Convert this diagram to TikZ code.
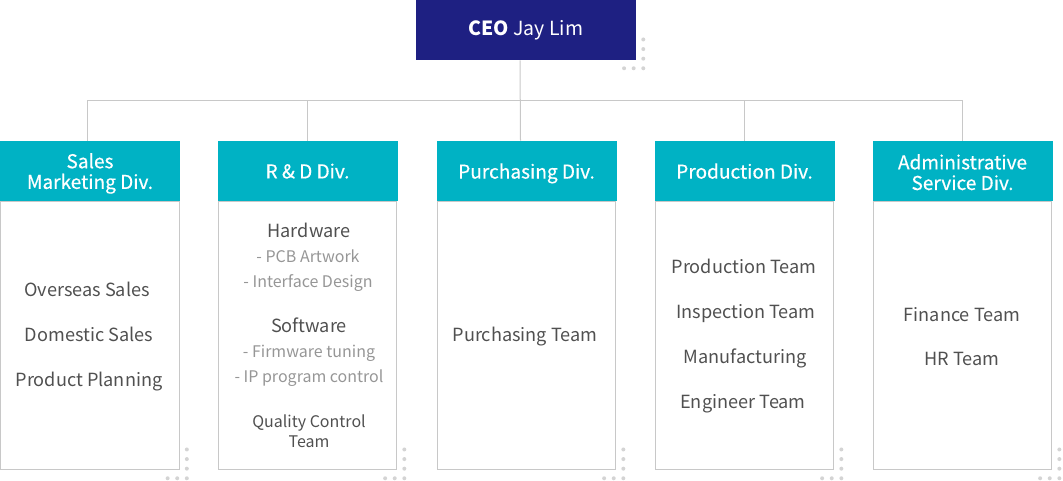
\documentclass[tikz,border=0pt]{standalone}
\usepackage{fontspec}
\setmainfont{Noto Sans CJK KR}
\newfontfamily\headfont[FakeBold=0.5]{Noto Sans CJK KR}
\usetikzlibrary{positioning,calc}
\definecolor{orgnavy}{RGB}{30,32,130}
\definecolor{orgteal}{RGB}{0,178,196}
\definecolor{orgline}{RGB}{200,200,200}
\definecolor{orgdot}{RGB}{212,212,212}
\definecolor{orgtext}{RGB}{80,80,80}
\definecolor{orgsub}{RGB}{150,150,150}

\tikzset{
  ceobox/.style={fill=orgnavy,text=white,minimum width=165pt,minimum height=45pt,inner sep=0pt,
    font=\fontsize{14.6}{18}\selectfont},
  headbox/.style={fill=orgteal,text=white,minimum width=135pt,minimum height=45pt,inner sep=0pt,
    align=center,text depth=0pt,font=\headfont\fontsize{14.3}{15.5}\selectfont},
  bodybox/.style={draw=orgline,line width=0.75pt,minimum width=134pt,minimum height=201pt,inner sep=0pt},
  teamtext/.style={text=orgtext,text depth=0pt,font=\fontsize{13.6}{16}\selectfont},
  subtext/.style={text=orgsub,text depth=0pt,font=\fontsize{12}{14}\selectfont},
  qctext/.style={text=orgtext,align=center,font=\fontsize{12}{15}\selectfont},
  link/.style={draw=orgline,line width=0.75pt}
}

% grey dots at the lower right corner of a box
\newcommand{\cornerdots}[1]{
  \foreach \k in {0,1,2,3} {
    \fill[orgdot] ($(#1.south east)+(7,8-9.6*\k)$) circle (1.5pt);
  }
  \foreach \k in {1,2} {
    \fill[orgdot] ($(#1.south east)+(7-9.6*\k,8)$) circle (1.5pt);
  }
}

\begin{document}
\begin{tikzpicture}[x=0.75pt,y=-0.75pt]
\useasboundingbox (0,0) rectangle (1063,481);

% CEO
\node[ceobox] (ceo) at (526,30) {\textbf{CEO} Jay Lim};
\cornerdots{ceo}

% division headers and bodies
\foreach \i/\x/\t in {1/90/{Sales\\Marketing Div.},2/307.5/{R \& D Div.},3/526.5/{Purchasing Div.},
  4/744.5/{Production Div.},5/962.5/{\rule{0pt}{13pt}Administrative\\Service Div.}} {
  \node[headbox] (h\i) at (\x,171) {\t};
  \node[bodybox,below=0pt of h\i] (b\i) {};
}
\foreach \i in {1,...,5} {
  \cornerdots{b\i}
}

% connectors
\coordinate (bus) at ($(ceo.south)+(-6,40)$);
\draw[link] ($(ceo.south)+(-6,0)$) -- ($(h3.north)+(-6,0)$);
\draw[link] ($(h1.north)+(-3,0)$) |- (bus) -| (h5.north);
\foreach \i in {2,4} {
  \draw[link] (h\i.north) -- (h\i.north |- bus);
}

% Sales Marketing Div.
\node[teamtext] (t11) at (87,289) {Overseas Sales};
\node[teamtext] (t12) at (89,334) {Domestic Sales};
\node[teamtext] (t13) at (89,379) {Product Planning};

% R & D Div.
\node[teamtext] (t21) at (309,230) {Hardware};
\node[subtext] (s21) at (308,256) {- PCB Artwork};
\node[subtext] (s22) at (308,281) {- Interface Design};
\node[teamtext] (t22) at (309,325) {Software};
\node[subtext] (s23) at (309,351) {- Firmware tuning};
\node[subtext] (s24) at (309,376) {- IP program control};
\node[qctext] (t23) at (309,431) {Quality Control\\Team};

% Purchasing Div.
\node[teamtext] (t31) at (525,334) {Purchasing Team};

% Production Div.
\node[teamtext] (t41) at (744,266) {Production Team};
\node[teamtext] (t42) at (746,311) {Inspection Team};
\node[teamtext] (t43) at (745,356) {Manufacturing};
\node[teamtext] (t44) at (743,401) {Engineer Team};

% Administrative Service Div.
\node[teamtext] (t51) at (962,314) {Finance Team};
\node[teamtext] (t52) at (962,359) {HR Team};

\end{tikzpicture}
\end{document}
